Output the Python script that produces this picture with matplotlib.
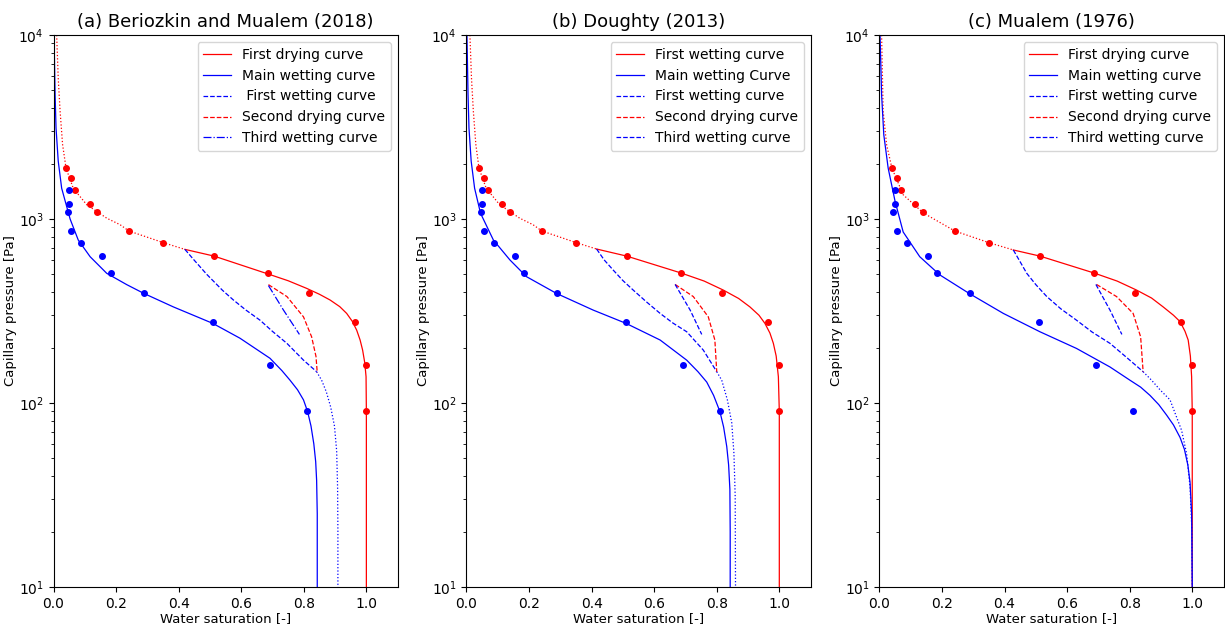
import numpy as np
import matplotlib
matplotlib.use("Agg")
import matplotlib.pyplot as plt

# measured points (same in every panel)
s_dry_pts = [0.040, 0.056, 0.069, 0.115, 0.140, 0.241, 0.351, 0.513, 0.687, 0.817, 0.963, 1.0, 1.0]
p_dry_pts = [1900, 1670, 1440, 1208, 1090, 861, 744, 629, 509, 394, 275, 161, 90]
s_wet_pts = [0.051, 0.049, 0.045, 0.055, 0.088, 0.156, 0.185, 0.289, 0.509, 0.693, 0.810]
p_wet_pts = [1440, 1208, 1090, 861, 744, 629, 509, 394, 275, 161, 90]

titles = ["(a) Beriozkin and Mualem (2018)", "(b) Doughty (2013)", "(c) Mualem (1976)"]
legend_labels = [
    ["First drying curve", "Main wetting curve", " First wetting curve", "Second drying curve", "Third wetting curve"],
    ["First wetting curve", "Main wetting Curve", "First wetting curve", "Second drying curve", "Third wetting curve"],
    ["First drying curve", "Main wetting curve", "First wetting curve", "Second drying curve", "Third wetting curve"],
]

# upper (dotted) part of the main drying curve
dry_top_s = [
    [0.010, 0.015, 0.021, 0.029, 0.040, 0.063, 0.106, 0.170, 0.213, 0.241, 0.351, 0.420],
    [0.011, 0.016, 0.022, 0.030, 0.040, 0.063, 0.106, 0.170, 0.213, 0.241, 0.351, 0.416],
    [0.007, 0.012, 0.023, 0.040, 0.076, 0.140, 0.241, 0.350, 0.428],
]
dry_top_p = [
    [10000, 5840, 3850, 2535, 1890, 1470, 1197, 1011, 931, 861, 744, 684],
    [10000, 5840, 3850, 2535, 1890, 1470, 1197, 1011, 931, 861, 744, 687],
    [10000, 3850, 2535, 1890, 1355, 1080, 861, 744, 679],
]

# first drying curve (solid)
dry_s = [
    [0.420, 0.513, 0.687, 0.750, 0.809, 0.850, 0.884, 0.915, 0.937, 0.955, 0.969, 0.980, 0.988,
     0.995, 0.999, 1.0, 1.0],
    [0.416, 0.512, 0.686, 0.760, 0.821, 0.870, 0.906, 0.935, 0.954, 0.970, 0.981, 0.990, 0.997,
     1.0, 1.0],
    [0.428, 0.513, 0.686, 0.760, 0.822, 0.870, 0.907, 0.940, 0.961, 0.977, 0.987, 0.994, 0.998,
     1.0, 1.0],
]
dry_p = [
    [684, 629, 502, 462, 420, 390, 363, 334, 307, 278, 249, 220, 194, 165, 139, 90, 10],
    [687, 629, 509, 460, 411, 370, 333, 300, 271, 240, 211, 180, 139, 90, 10],
    [679, 629, 509, 460, 411, 372, 333, 300, 277, 245, 220, 180, 139, 90, 10],
]

# main wetting curve
wet_s = [
    [0.0015, 0.005, 0.008, 0.015, 0.026, 0.053, 0.079, 0.117, 0.170, 0.234, 0.289, 0.383, 0.509,
     0.596, 0.692, 0.730, 0.756, 0.780, 0.799, 0.812, 0.823, 0.832, 0.838, 0.841, 0.843, 0.843],
    [0.0015, 0.005, 0.008, 0.015, 0.026, 0.045, 0.086, 0.139, 0.192, 0.288, 0.405, 0.510, 0.619,
     0.704, 0.740, 0.768, 0.790, 0.810, 0.822, 0.832, 0.838, 0.842, 0.843, 0.843],
    [0.002, 0.007, 0.014, 0.028, 0.050, 0.076, 0.129, 0.193, 0.287, 0.396, 0.513, 0.630, 0.737,
     0.801, 0.835, 0.865, 0.893, 0.918, 0.940, 0.961, 0.975, 0.986, 0.993, 0.998, 1.0],
]
wet_p = [
    [10000, 4740, 3120, 2065, 1470, 1000, 769, 624, 507, 440, 394, 333, 271,
     225, 175, 150, 133, 118, 104, 90, 75, 60, 48, 38, 25, 10],
    [10000, 4740, 3120, 2065, 1470, 1074, 769, 599, 486, 394, 320, 271, 220,
     171, 148, 130, 110, 90, 74, 58, 46, 34, 20, 10],
    [10000, 4740, 2870, 1890, 1250, 850, 624, 497, 394, 307, 244, 198, 157,
     133, 122, 110, 98, 86, 76, 65, 56, 46, 37, 25, 10],
]

# first wetting scanning curve
wet1_s = [
    [0.420, 0.445, 0.468, 0.490, 0.511, 0.540, 0.575, 0.615, 0.660, 0.700, 0.746, 0.799, 0.841],
    [0.416, 0.440, 0.469, 0.500, 0.533, 0.575, 0.619, 0.660, 0.704, 0.757, 0.800],
    [0.428, 0.450, 0.471, 0.500, 0.535, 0.580, 0.630, 0.680, 0.737, 0.790, 0.843],
]
wet1_p = [
    [684, 610, 551, 500, 460, 410, 363, 320, 282, 245, 211, 171, 148],
    [687, 600, 528, 463, 411, 355, 307, 272, 244, 194, 148],
    [679, 585, 507, 440, 379, 325, 282, 243, 211, 177, 148],
]

# continuation of first wetting curve (dotted)
wet1_end_s = [
    [0.841, 0.857, 0.872, 0.886, 0.898, 0.905, 0.908, 0.909, 0.909],
    [0.800, 0.816, 0.834, 0.848, 0.855, 0.859, 0.860],
    [0.843, 0.870, 0.897, 0.929, 0.966, 0.982, 0.993, 0.999, 1.0],
]
wet1_end_p = [
    [148, 133, 115, 95, 75, 55, 35, 20, 10],
    [148, 133, 104, 78, 53, 31, 10],
    [148, 133, 118, 104, 71, 53, 35, 20, 10],
]

# second drying scanning curve
dry2_s = [
    [0.687, 0.746, 0.799, 0.825, 0.839, 0.843],
    [0.667, 0.725, 0.773, 0.794, 0.800],
    [0.694, 0.758, 0.811, 0.835, 0.843],
]
dry2_p = [
    [440, 379, 294, 229, 179, 146],
    [441, 379, 294, 220, 148],
    [441, 379, 307, 229, 148],
]

# third wetting scanning curve
wet3_s = [
    [0.687, 0.735, 0.786],
    [0.667, 0.715, 0.752],
    [0.692, 0.737, 0.775],
]
wet3_p = [
    [435, 320, 236],
    [441, 320, 236],
    [441, 320, 236],
]

third_style = ["-.", "--", "--"]
lw = 0.9

fig = plt.figure(figsize=(12.25, 6.26), dpi=100)
axes = fig.subplots(1, 3)
fig.subplots_adjust(left=0.0437, right=0.9988, bottom=0.0623, top=0.944, wspace=0.2)

for i, ax in enumerate(axes):
    ax.plot(dry_top_s[i], dry_top_p[i], color="r", ls=":", lw=lw)
    h1, = ax.plot(dry_s[i], dry_p[i], color="r", ls="-", lw=lw)
    h2, = ax.plot(wet_s[i], wet_p[i], color="b", ls="-", lw=lw)
    h3, = ax.plot(wet1_s[i], wet1_p[i], color="b", ls="--", lw=lw)
    ax.plot(wet1_end_s[i], wet1_end_p[i], color="b", ls=":", lw=lw)
    h4, = ax.plot(dry2_s[i], dry2_p[i], color="r", ls="--", lw=lw)
    h5, = ax.plot(wet3_s[i], wet3_p[i], color="b", ls=third_style[i], lw=lw)
    ax.plot(s_dry_pts, p_dry_pts, "o", color="r", ms=4)
    ax.plot(s_wet_pts, p_wet_pts, "o", color="b", ms=4)

    ax.set_yscale("log")
    ax.set_xlim(0, 1.1)
    ax.set_ylim(10, 1e4)
    ax.set_xticks([0.0, 0.2, 0.4, 0.6, 0.8, 1.0])
    ax.tick_params(labelsize=10)
    ax.set_title(titles[i], fontsize=13)
    ax.set_xlabel("Water saturation [-]", fontsize=9.5, labelpad=1)
    ax.set_ylabel("Capillary pressure [Pa]", fontsize=9.5, labelpad=1)
    ax.legend([h1, h2, h3, h4, h5], legend_labels[i], loc="upper right", fontsize=10)

fig.savefig("out.png", dpi=100)
